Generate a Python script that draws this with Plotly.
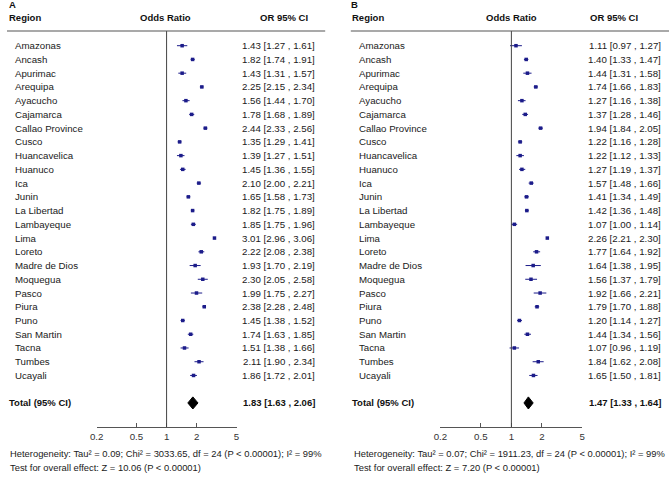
import math
import plotly.graph_objects as go

# ---------------- data ----------------
regions = ["Amazonas", "Ancash", "Apurimac", "Arequipa", "Ayacucho", "Cajamarca",
           "Callao Province", "Cusco", "Huancavelica", "Huanuco", "Ica", "Junin",
           "La Libertad", "Lambayeque", "Lima", "Loreto", "Madre de Dios", "Moquegua",
           "Pasco", "Piura", "Puno", "San Martin", "Tacna", "Tumbes", "Ucayali"]

or_a = [1.43, 1.82, 1.43, 2.25, 1.56, 1.78, 2.44, 1.35, 1.39, 1.45, 2.10, 1.65,
        1.82, 1.85, 3.01, 2.22, 1.93, 2.30, 1.99, 2.38, 1.45, 1.74, 1.51, 2.11, 1.86]
lo_a = [1.27, 1.74, 1.31, 2.15, 1.44, 1.68, 2.33, 1.29, 1.27, 1.36, 2.00, 1.58,
        1.75, 1.75, 2.96, 2.08, 1.70, 2.05, 1.75, 2.28, 1.38, 1.63, 1.38, 1.90, 1.72]
hi_a = [1.61, 1.91, 1.57, 2.34, 1.70, 1.89, 2.56, 1.41, 1.51, 1.55, 2.21, 1.73,
        1.89, 1.96, 3.06, 2.38, 2.19, 2.58, 2.27, 2.48, 1.52, 1.85, 1.66, 2.34, 2.01]
total_a = [1.83, 1.63, 2.06]

or_b = [1.11, 1.40, 1.44, 1.74, 1.27, 1.37, 1.94, 1.22, 1.22, 1.27, 1.57, 1.41,
        1.42, 1.07, 2.26, 1.77, 1.64, 1.56, 1.92, 1.79, 1.20, 1.44, 1.07, 1.84, 1.65]
lo_b = [0.97, 1.33, 1.31, 1.66, 1.16, 1.28, 1.84, 1.16, 1.12, 1.19, 1.48, 1.34,
        1.36, 1.00, 2.21, 1.64, 1.38, 1.37, 1.66, 1.70, 1.14, 1.34, 0.96, 1.62, 1.50]
hi_b = [1.27, 1.47, 1.58, 1.83, 1.38, 1.46, 2.05, 1.28, 1.33, 1.37, 1.66, 1.49,
        1.48, 1.14, 2.30, 1.92, 1.95, 1.79, 2.21, 1.88, 1.27, 1.56, 1.19, 2.08, 1.81]
total_b = [1.47, 1.33, 1.64]

stats_a = ["Heterogeneity: Tau² = 0.09; Chi² = 3033.65, df = 24 (P &lt; 0.00001); I² = 99%",
           "Test for overall effect: Z = 10.06 (P &lt; 0.00001)"]
stats_b = ["Heterogeneity: Tau² = 0.07; Chi² = 1911.23, df = 24 (P &lt; 0.00001); I² = 99%",
           "Test for overall effect: Z = 7.20 (P &lt; 0.00001)"]

tick_vals = [0.2, 0.5, 1, 2, 5]
tick_text = ["0.2", "0.5", "1", "2", "5"]
panel_labels = ["A", "B"]

# ---------------- layout helpers ----------------
W, H = 672, 482
ROW0, ROWH = 45.7, 13.74
def row(py):
    return (py - ROW0) / ROWH
def px(x):
    return x / W

FONT = "Liberation Sans, Arial, sans-serif"
FS = 9.7
FSB = 9.5
FSS = 9.4
NAVY = "#1c1c8a"
TXT = "#1a1a1a"

rows = list(range(len(regions)))
total_row = len(regions) + 1

panels = [
    dict(lab=panel_labels[0], orv=or_a, lo=lo_a, hi=hi_a, tot=total_a, stats=stats_a,
         xa="x", dom=(91, 233), lab_x=0.5, head_x=0.5, name_x=6.5, odds_x=161,
         ci_head_x=281, ci_right=314.5, line=(0, 323), stat_x=1.5),
    dict(lab=panel_labels[1], orv=or_b, lo=lo_b, hi=hi_b, tot=total_b, stats=stats_b,
         xa="x2", dom=(440, 584), lab_x=347, head_x=348, name_x=355, odds_x=512,
         ci_head_x=616, ci_right=666, line=(349, 672), stat_x=350.5),
]

fig = go.Figure()
ann = []
shapes = []

for i, p in enumerate(panels):
    # study estimates with CI
    fig.add_trace(go.Scatter(
        x=p["orv"], y=rows, mode="markers", xaxis=p["xa"], yaxis="y",
        marker=dict(symbol="square", size=3.5, color=NAVY),
        error_x=dict(type="data", symmetric=False,
                     array=[h - o for h, o in zip(p["hi"], p["orv"])],
                     arrayminus=[o - l for o, l in zip(p["orv"], p["lo"])],
                     color=NAVY, thickness=1, width=0),
        cliponaxis=False, showlegend=False, hoverinfo="skip"))
    # pooled diamond
    o, l, h = p["tot"]
    d = 0.44
    fig.add_trace(go.Scatter(
        x=[l, o, h, o, l], y=[total_row, total_row - d, total_row, total_row + d, total_row],
        mode="lines", fill="toself", fillcolor="black", line=dict(color="black", width=1),
        xaxis=p["xa"], yaxis="y", cliponaxis=False, showlegend=False, hoverinfo="skip"))

    # reference line at OR = 1
    shapes.append(dict(type="line", xref=p["xa"], yref="y", x0=1, x1=1,
                       y0=row(31), y1=row(427), line=dict(color="#444", width=1)))
    # header rule
    shapes.append(dict(type="line", xref="paper", yref="y", x0=px(p["line"][0]),
                       x1=px(p["line"][1]), y0=row(31), y1=row(31),
                       line=dict(color="#555", width=1.2)))

    bold = dict(family=FONT, size=FSB, color="#111")
    ann.append(dict(text="<b>%s</b>" % p["lab"], x=px(p["lab_x"]), y=row(4.5),
                    xanchor="left", yanchor="middle", font=bold))
    ann.append(dict(text="<b>Region</b>", x=px(p["head_x"]), y=row(17),
                    xanchor="left", yanchor="middle", font=bold))
    ann.append(dict(text="<b>Odds Ratio</b>", x=px(p["odds_x"]), y=row(17),
                    xanchor="center", yanchor="middle", font=bold))
    ann.append(dict(text="<b>OR 95% CI</b>", x=px(p["ci_head_x"]), y=row(17),
                    xanchor="center", yanchor="middle", font=bold))

    reg = dict(family=FONT, size=FS, color=TXT)
    for r, name, ov, lv, hv in zip(rows, regions, p["orv"], p["lo"], p["hi"]):
        ann.append(dict(text=name, x=px(p["name_x"]), y=r, xanchor="left",
                        yanchor="middle", font=reg))
        ann.append(dict(text="%.2f [%.2f , %.2f]" % (ov, lv, hv), x=px(p["ci_right"]),
                        y=r, xanchor="right", yanchor="middle", font=reg))
    ann.append(dict(text="<b>Total (95% CI)</b>", x=px(p["head_x"]), y=total_row,
                    xanchor="left", yanchor="middle", font=bold))
    ann.append(dict(text="<b>%.2f [%.2f , %.2f]</b>" % (o, l, h), x=px(p["ci_right"]),
                    y=total_row, xanchor="right", yanchor="middle", font=bold))
    small = dict(family=FONT, size=FSS, color=TXT)
    ann.append(dict(text=p["stats"][0], x=px(p["stat_x"]), y=row(453),
                    xanchor="left", yanchor="middle", font=small))
    ann.append(dict(text=p["stats"][1], x=px(p["stat_x"]), y=row(467),
                    xanchor="left", yanchor="middle", font=small))

for a in ann:
    a.update(xref="paper", yref="y", showarrow=False)

axis_common = dict(type="log", range=[math.log10(0.2), math.log10(5)],
                   tickvals=tick_vals, ticktext=tick_text, ticks="inside", ticklen=4,
                   tickcolor="#555", showline=True, linecolor="#555", linewidth=1,
                   showgrid=False, zeroline=False, anchor="free",
                   position=1 - 427 / H, tickfont=dict(family=FONT, size=FS, color="#333"),
                   fixedrange=True)

fig.update_layout(
    width=W, height=H, margin=dict(l=0, r=0, t=0, b=0, pad=0),
    paper_bgcolor="white", plot_bgcolor="white",
    xaxis=dict(domain=[px(panels[0]["dom"][0]), px(panels[0]["dom"][1])], **axis_common),
    xaxis2=dict(domain=[px(panels[1]["dom"][0]), px(panels[1]["dom"][1])], **axis_common),
    yaxis=dict(range=[row(H), row(0)], visible=False, fixedrange=True, domain=[0, 1]),
    annotations=ann, shapes=shapes, showlegend=False,
)

fig.write_html("out.html",
               config={"displayModeBar": False, "staticPlot": True},
               post_script="document.body.style.margin='0';document.body.style.overflow='hidden';")
